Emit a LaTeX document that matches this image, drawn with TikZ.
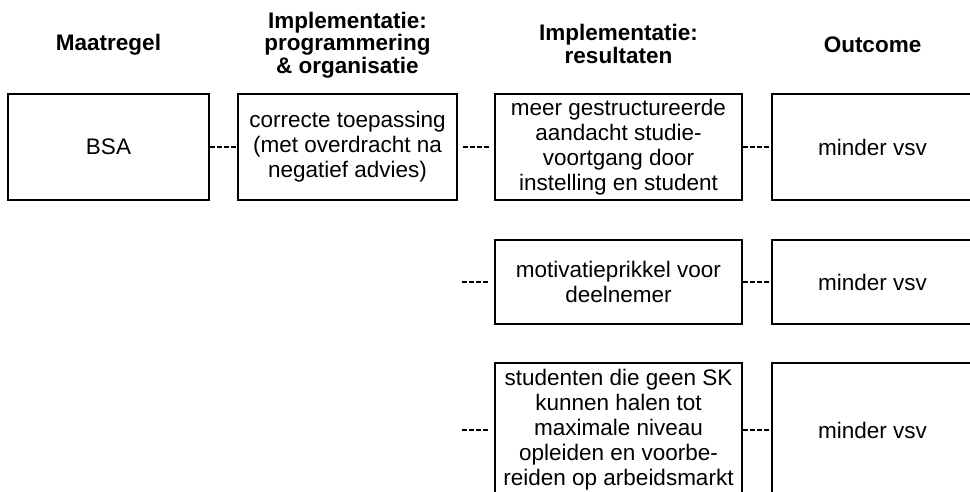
\documentclass[tikz,border=0pt]{standalone}
\usepackage{fontspec}
\setmainfont{Liberation Sans}
\begin{document}
\begin{tikzpicture}[x=1pt,y=1pt,
    box/.style={draw,line width=1.6pt,align=center,inner sep=0pt,
                font=\fontsize{22.5}{25}\selectfont},
    head/.style={align=center,font=\bfseries\fontsize{22.5}{22.5}\selectfont},
    link/.style={line width=1.4pt,dash pattern=on 5pt off 2pt}]
                \clip (0,0) rectangle (970,-491);
                % column headers
                \node[head] (hmaat) at (108.5,-45) {Maatregel};
                \node[head] (hprog) at (347.5,-45) {Implementatie:\\programmering\\\& organisatie};
                \node[head] (hres) at (618.5,-44) {Implementatie:\\resultaten};
                \node[head] (hout) at (872.5,-45) {Outcome};
                % row 1
                \node[box,minimum width=201pt,minimum height=106pt] (bsa) at (108.5,-147) {BSA};
                \node[box,minimum width=219pt,minimum height=106pt] (toep) at (347.5,-147) {correcte toepassing\\(met overdracht na\\negatief advies)};
                \node[box,minimum width=247pt,minimum height=106pt] (aand) at (618.5,-147) {meer gestructureerde\\aandacht studie-\\voortgang door\\instelling en student};
                \node[box,minimum width=201pt,minimum height=106pt] (vsva) at (872.5,-147) {minder vsv};
                % row 2
                \node[box,minimum width=247pt,minimum height=84pt] (motiv) at (618.5,-282) {motivatieprikkel voor\\deelnemer};
                \node[box,minimum width=201pt,minimum height=84pt] (vsvb) at (872.5,-282) {minder vsv};
                % row 3
                \node[box,minimum width=247pt,minimum height=134pt] (stud) at (618.5,-430) {studenten die geen SK\\kunnen halen tot\\maximale niveau\\opleiden en voorbe-\\reiden op arbeidsmarkt};
                \node[box,minimum width=201pt,minimum height=134pt] (vsvc) at (872.5,-430) {minder vsv};
                % links
                \coordinate (ltwee) at (462,-282);
                \coordinate (ldrie) at (462,-430);
                \draw[link] (bsa.east)--(toep.west);
                \draw[link,shorten <=5pt,shorten >=5pt] (toep.east)--(aand.west);
                \draw[link,shorten >=5pt] (ltwee)--(motiv.west);
                \draw[link,shorten >=5pt] (ldrie)--(stud.west);
                \draw[link] (aand.east)--(vsva.west);
                \draw[link] (motiv.east)--(vsvb.west);
                \draw[link] (stud.east)--(vsvc.west);
\end{tikzpicture}
\end{document}
